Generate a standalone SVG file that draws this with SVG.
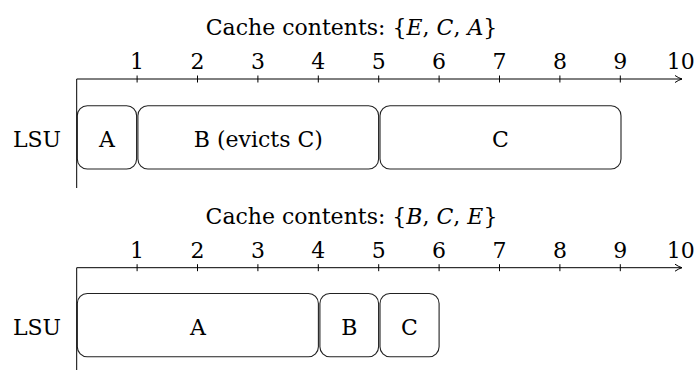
<svg xmlns="http://www.w3.org/2000/svg" width="696" height="370" viewBox="0 0 696 370">
<style>
text{font-family:"DejaVu Serif","Liberation Serif",serif;font-size:22px;fill:#000}
.t{text-anchor:middle}
.ax{stroke:#000;stroke-width:1;fill:none}
.box{fill:#fff;stroke:#222;stroke-width:1.1}
.m{font-style:italic}
</style>
<defs>
<marker id="arr" markerWidth="10" markerHeight="10" refX="8" refY="5" orient="auto" markerUnits="userSpaceOnUse">
<path d="M1,1.5 Q5,4.2 8,5 Q5,5.8 1,8.5" fill="none" stroke="#000" stroke-width="1"/>
</marker>
</defs>
<rect width="696" height="370" fill="#fff"/>
<g id="panel1">
<text id="title1" class="t" x="351.5" y="35">Cache contents: {<tspan class="m">E</tspan>, <tspan class="m">C</tspan>, <tspan class="m">A</tspan>}</text>
<g id="axis1" class="t">
<text x="137.1" y="69">1</text><text x="197.5" y="69">2</text><text x="257.9" y="69">3</text><text x="318.3" y="69">4</text><text x="378.7" y="69">5</text><text x="439.1" y="69">6</text><text x="499.5" y="69">7</text><text x="559.9" y="69">8</text><text x="620.3" y="69">9</text><text x="680.7" y="69">10</text>
</g>
<text id="lsu1" class="t" x="37" y="146.5">LSU</text>
<g id="p1A"><rect class="box" x="77.3" y="105.7" width="59.3" height="63.3" rx="10"/><text class="t" x="107" y="146.5">A</text></g>
<g id="p1B"><rect class="box" x="137.9" y="105.7" width="240.7" height="63.3" rx="10"/><text class="t" x="258.3" y="146.5">B (evicts C)</text></g>
<g id="p1C"><rect class="box" x="380" y="105.7" width="241" height="63.3" rx="10"/><text class="t" x="500.5" y="146.5">C</text></g>
</g>
<g id="panel2">
<text id="title2" class="t" x="351.5" y="223.5">Cache contents: {<tspan class="m">B</tspan>, <tspan class="m">C</tspan>, <tspan class="m">E</tspan>}</text>
<g id="axis2" class="t">
<text x="137.1" y="257.5">1</text><text x="197.5" y="257.5">2</text><text x="257.9" y="257.5">3</text><text x="318.3" y="257.5">4</text><text x="378.7" y="257.5">5</text><text x="439.1" y="257.5">6</text><text x="499.5" y="257.5">7</text><text x="559.9" y="257.5">8</text><text x="620.3" y="257.5">9</text><text x="680.7" y="257.5">10</text>
</g>
<text id="lsu2" class="t" x="37" y="335">LSU</text>
<g id="p2A"><rect class="box" x="77.3" y="293.5" width="241.1" height="63.3" rx="10"/><text class="t" x="198" y="335">A</text></g>
<g id="p2B"><rect class="box" x="319.9" y="293.5" width="58.7" height="63.3" rx="10"/><text class="t" x="349.3" y="335">B</text></g>
<g id="p2C"><rect class="box" x="380" y="293.5" width="59.1" height="63.3" rx="10"/><text class="t" x="409.5" y="335">C</text></g>
</g>
<g id="connectors" class="ax">
<path d="M76.7,79 H682" marker-end="url(#arr)"/>
<path d="M76.7,79 V188"/>
<path d="M137.1,75.5v7M197.5,75.5v7M257.9,75.5v7M318.3,75.5v7M378.7,75.5v7M439.1,75.5v7M499.5,75.5v7M559.9,75.5v7M620.3,75.5v7"/>
<path d="M76.7,267.7 H682" marker-end="url(#arr)"/>
<path d="M76.7,267.7 V376"/>
<path d="M137.1,264.2v7M197.5,264.2v7M257.9,264.2v7M318.3,264.2v7M378.7,264.2v7M439.1,264.2v7M499.5,264.2v7M559.9,264.2v7M620.3,264.2v7"/>
</g>
</svg>
